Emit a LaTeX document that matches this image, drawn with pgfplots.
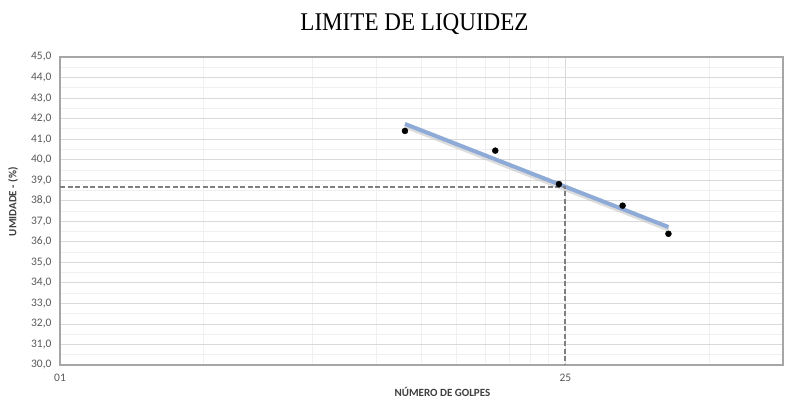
\documentclass[border=0pt]{standalone}
\usepackage{pgfplots}
\pgfplotsset{compat=1.18}
\usepackage{fontspec}
\setmainfont{Carlito}
\newfontfamily\titlefont{Liberation Serif}
\definecolor{tickgray}{HTML}{595959}
\definecolor{framegray}{HTML}{A6A6A6}
\definecolor{gridmaj}{HTML}{D9D9D9}
\definecolor{gridmin}{HTML}{F0F0F0}
\definecolor{trendblue}{HTML}{8EAAD6}
\definecolor{dashgray}{HTML}{7F7F7F}

\begin{document}
\begin{tikzpicture}[x=1pt,y=1pt]
\path[use as bounding box] (0,0) rectangle (795,402);
\begin{axis}[
    at={(60pt,37pt)}, anchor=south west,
    scale only axis,
    width=723pt, height=308pt,
    xmode=log,
    xmin=1, xmax=100,
    ymin=30, ymax=45,
    xtick={1,25},
    xticklabels={01,25},
    minor xtick={2.5,5,7.5,10,12.5,15,17.5,20,22.5,62.5},
    ytick={30,31,...,45},
    minor ytick={30.5,31.5,...,44.5},
    yticklabel style={xshift=-5pt,
        /pgf/number format/fixed,
        /pgf/number format/fixed zerofill,
        /pgf/number format/precision=1,
        /pgf/number format/use comma},
    /pgf/number format/assume math mode=true,
    ticklabel style={font=\fontsize{11.5}{12}\selectfont, text=tickgray},
    xticklabel style={yshift=-6pt},
    major tick length=0pt, minor tick length=0pt,
    grid=both,
    major grid style={gridmaj, line width=0.8pt},
    minor grid style={gridmin, line width=0.8pt},
    axis line style={framegray, line width=1.5pt},
    title={\titlefont\fontsize{25.5}{28}\selectfont\scalebox{0.905}[1]{LIMITE DE LIQUIDEZ}},
    title style={yshift=13pt, xshift=-7pt},
    xlabel={\bfseries NÚMERO DE GOLPES},
    ylabel={\bfseries UMIDADE - (\%)},
    label style={font=\fontsize{11}{12}\selectfont, text=tickgray!70!black},
    xlabel style={at={(axis description cs:0.529,-0.088)}, anchor=center},
    ylabel style={at={(axis description cs:-0.065,0.53)}, anchor=center},
    clip=false,
]
% trend line shadow and line
\addplot[gray!45, line width=4pt, yshift=-2.5pt, opacity=0.6] coordinates {(9,41.74) (48.2,36.72)};
\addplot[trendblue, line width=4pt] coordinates {(9,41.74) (48.2,36.72)};
% dashed guide lines at 25 golpes
\addplot[dashgray, line width=2pt, dash pattern=on 5pt off 2.5pt] coordinates {(1,38.68) (25,38.68) (25,30)};
% data points
\addplot[only marks, mark=*, mark size=3pt, black] coordinates {
    (9.0,41.40) (16.0,40.44) (24.0,38.81) (36.0,37.76) (48.2,36.39)
};
\end{axis}
\end{tikzpicture}
\end{document}
